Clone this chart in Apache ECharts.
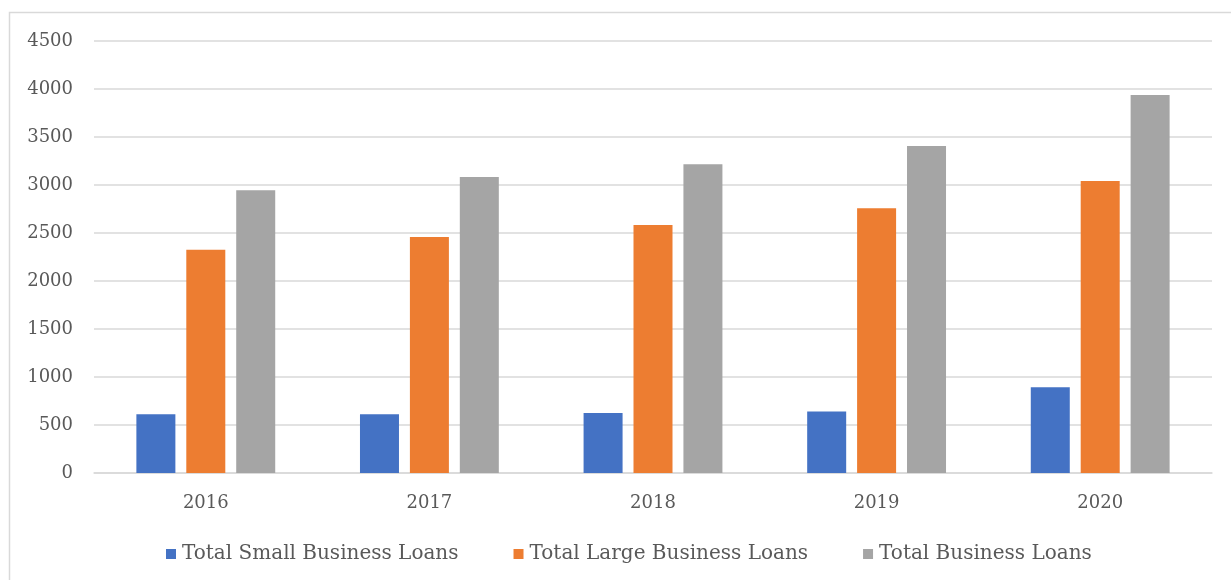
<!DOCTYPE html>
<html>
<head>
<meta charset="utf-8">
<title>Business Loans 2016–2020</title>
<script src="https://cdn.jsdelivr.net/npm/echarts@6/dist/echarts.min.js"></script>
<style>
  html, body { margin: 0; padding: 0; background: #ffffff; }
  #chart { width: 1231px; height: 580px; }
</style>
</head>
<body>
<div id="chart"></div>
<script>
// Years on the category axis
const years = ['2016', '2017', '2018', '2019', '2020'];

// Loan totals per year
const smallBusinessLoans = [611, 612, 625, 640, 892];
const largeBusinessLoans = [2326, 2458, 2583, 2757, 3042];
const totalBusinessLoans = [2945, 3083, 3215, 3406, 3937];

// Series names shown in the legend
const seriesNames = ['Total Small Business Loans', 'Total Large Business Loans', 'Total Business Loans'];
const seriesColors = ['#4472C4', '#ED7D31', '#A5A5A5'];
const seriesData = [smallBusinessLoans, largeBusinessLoans, totalBusinessLoans];

const textFont = 'DejaVu Serif';
const textColor = '#595959';

const chart = echarts.init(document.getElementById('chart'), null, { renderer: 'canvas' });

chart.setOption({
  animation: false,
  backgroundColor: '#ffffff',
  graphic: [{
    type: 'rect',
    shape: { x: 9.5, y: 12.5, width: 1300, height: 700 },
    style: { fill: null, stroke: '#d9d9d9', lineWidth: 1.5 },
    silent: true
  }],
  grid: { left: 94, right: 19, top: 41, bottom: 107, containLabel: false },
  legend: {
    data: seriesNames,
    left: 161,
    top: 539,
    icon: 'rect',
    itemWidth: 10,
    itemHeight: 10,
    itemGap: 55,
    textStyle: { fontFamily: textFont, fontSize: 20, color: textColor, padding: [0, 0, 0, 1] }
  },
  xAxis: {
    type: 'category',
    data: years,
    axisLine: { show: true, lineStyle: { color: '#d9d9d9', width: 1.5 } },
    axisTick: { show: false },
    axisLabel: { fontFamily: textFont, fontSize: 18, color: textColor, margin: 21 }
  },
  yAxis: {
    type: 'value',
    min: 0,
    max: 4500,
    interval: 500,
    axisLine: { show: false },
    axisTick: { show: false },
    splitLine: { show: true, lineStyle: { color: '#d9d9d9', width: 1.5 } },
    axisLabel: {
      fontFamily: textFont, fontSize: 18, color: textColor, margin: 21,
      formatter: (v) => String(v)
    }
  },
  series: seriesNames.map((name, i) => ({
    name: name,
    type: 'bar',
    data: seriesData[i],
    barWidth: 39,
    barGap: '28%',
    itemStyle: { color: seriesColors[i] }
  }))
});
</script>
</body>
</html>
